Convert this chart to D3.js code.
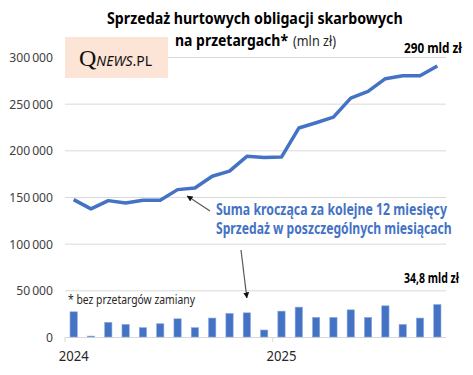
<!DOCTYPE html>
<meta charset="utf-8">
<style>
  body { margin: 0; background: #fff; }
  text { font-family: "Noto Sans", sans-serif; }
</style>
<body>
<script src="https://cdn.jsdelivr.net/npm/d3@7"></script>
<script>

var width = 473,
    height = 375,
    margin = {top: 57, right: 27, bottom: 38, left: 65};

// miesiące 01.2024 - 10.2025
var months = d3.range(22).map(function(i) { return i; });
var monthly = [27000, 1000, 15700, 13500, 10000, 14200, 19500, 10000, 20300, 25300, 25900, 7500,
               27700, 32000, 21000, 21000, 29100, 21000, 33400, 13500, 20300, 34800];
var rolling = [147200, 137300, 146100, 143600, 146500, 146500, 157900, 159600, 172200, 177800, 193600, 192200,
               192800, 223900, 229600, 235500, 256000, 263200, 276800, 280000, 280000, 290400];
var yTicks = [0, 50000, 100000, 150000, 200000, 250000, 300000];
var xLabels = [{i: 0, label: "2024"}, {i: 12, label: "2025"}];

var color = "#4472c4";

var x = d3.scaleBand()
    .domain(months)
    .range([margin.left, width - margin.right])
    .paddingInner(0.58)
    .paddingOuter(0.29);

var y = d3.scaleLinear()
    .domain([0, 300000])
    .range([height - margin.bottom, margin.top]);

var svg = d3.select("body").append("svg")
    .attr("width", width)
    .attr("height", height);

// squeeze text horizontally to the width it has in the picture (Calibri is narrow)
function squeeze(sel, px, py, w) {
  var n = sel.node(), sx = w / n.getComputedTextLength();
  sel.attr("x", 0).attr("y", 0)
     .attr("transform", "translate(" + px + "," + py + ") scale(" + sx + ",1)");
  return sel;
}

var fmt = function(d) { return d3.format(",")(d).replace(/,/g, "\u2009"); };

// grid
svg.append("g")
  .selectAll("line")
  .data(yTicks)
  .enter().append("line")
    .attr("x1", margin.left)
    .attr("x2", width - margin.right)
    .attr("y1", function(d) { return y(d) + 0.5; })
    .attr("y2", function(d) { return y(d) + 0.5; })
    .attr("stroke", "#d9d9d9")
    .attr("stroke-width", 1);

svg.append("g")
  .selectAll("text")
  .data(yTicks)
  .enter().append("text")
    .attr("text-anchor", "end")
    .attr("font-size", 13.5)
    .attr("fill", "#404040")
    .text(fmt)
    .each(function(d) {
      var s = d3.select(this);
      squeeze(s, 53, y(d) + 5, this.getComputedTextLength() * 0.9);
    });

// ticks at year start
var step = x.step();
svg.append("g")
  .selectAll("line")
  .data(xLabels)
  .enter().append("line")
    .attr("x1", function(d) { return x(d.i) - (step - x.bandwidth()) / 2; })
    .attr("x2", function(d) { return x(d.i) - (step - x.bandwidth()) / 2; })
    .attr("y1", y(0))
    .attr("y2", y(0) + 5)
    .attr("stroke", "#d9d9d9");

svg.append("g")
  .selectAll("text")
  .data(xLabels)
  .enter().append("text")
    .attr("text-anchor", "middle")
    .attr("font-size", 15)
    .attr("fill", "#262626")
    .text(function(d) { return d.label; })
    .each(function(d) {
      squeeze(d3.select(this), x(d.i) + x.bandwidth() / 2, 361, 30);
    });

// bars
svg.append("g")
  .selectAll("rect")
  .data(monthly)
  .enter().append("rect")
    .attr("x", function(d, i) { return x(i); })
    .attr("y", function(d) { return y(d); })
    .attr("width", x.bandwidth())
    .attr("height", function(d) { return y(0) - y(d); })
    .attr("fill", color)
    .attr("stroke", "#8faadc")
    .attr("stroke-width", 0.6);

// line
var line = d3.line()
    .x(function(d, i) { return x(i) + x.bandwidth() / 2; })
    .y(function(d) { return y(d); });

svg.append("path")
    .datum(rolling)
    .attr("d", line)
    .attr("fill", "none")
    .attr("stroke", color)
    .attr("stroke-width", 3.5)
    .attr("stroke-linejoin", "round");

// title
squeeze(svg.append("text")
    .attr("font-size", 16).attr("font-weight", "bold")
    .attr("fill", "#000")
    .text("Sprzedaż hurtowych obligacji skarbowych"), 107, 24, 296);

squeeze(svg.append("text")
    .attr("font-size", 16).attr("font-weight", "bold")
    .attr("fill", "#000")
    .text("na przetargach*"), 175, 46, 113);

squeeze(svg.append("text")
    .attr("font-size", 13.5)
    .attr("fill", "#262626")
    .text("(mln zł)"), 293, 46, 43);

// logo
svg.append("rect")
    .attr("x", 65).attr("y", 37)
    .attr("width", 103).attr("height", 41)
    .attr("fill", "#fce4d6");

var logo = svg.append("text")
    .attr("x", 79).attr("y", 66)
    .attr("fill", "#111");
logo.append("tspan").attr("font-family", "'Liberation Serif', serif").attr("font-size", 24).text("Q");
logo.append("tspan").attr("font-style", "italic").attr("font-size", 14).text("NEWS");
logo.append("tspan").attr("font-size", 14).text(".PL");

// value labels
squeeze(svg.append("text")
    .attr("font-size", 13.5).attr("font-weight", "bold")
    .text("290 mld zł"), 404, 53, 58);

squeeze(svg.append("text")
    .attr("font-size", 13.5).attr("font-weight", "bold")
    .text("34,8 mld zł"), 404, 283, 55);

// notes
squeeze(svg.append("text")
    .attr("font-size", 13).attr("fill", "#262626")
    .text("* bez przetargów zamiany"), 68, 304, 127);

squeeze(svg.append("text")
    .attr("font-size", 15.5).attr("font-weight", "bold").attr("fill", color)
    .text("Suma krocząca za kolejne 12 miesięcy"), 216, 215, 231);

squeeze(svg.append("text")
    .attr("font-size", 15.5).attr("font-weight", "bold").attr("fill", color)
    .text("Sprzedaż w poszczególnych miesiącach"), 216, 234, 236);

// arrows
svg.append("defs").append("marker")
    .attr("id", "arr")
    .attr("viewBox", "0 0 10 10")
    .attr("refX", 9).attr("refY", 5)
    .attr("markerWidth", 5).attr("markerHeight", 5)
    .attr("orient", "auto")
  .append("path")
    .attr("d", "M0,0L10,5L0,10z")
    .attr("fill", "#111");

svg.append("line")
    .attr("x1", 210).attr("y1", 211)
    .attr("x2", x(7) - 4).attr("y2", y(rolling[7]) + 8)
    .attr("stroke", "#595959").attr("stroke-width", 1.2)
    .attr("marker-end", "url(#arr)");

svg.append("line")
    .attr("x1", 241).attr("y1", 250)
    .attr("x2", x(10) + x.bandwidth() / 2).attr("y2", y(monthly[10]) - 15)
    .attr("stroke", "#595959").attr("stroke-width", 1.2)
    .attr("marker-end", "url(#arr)");

</script>
